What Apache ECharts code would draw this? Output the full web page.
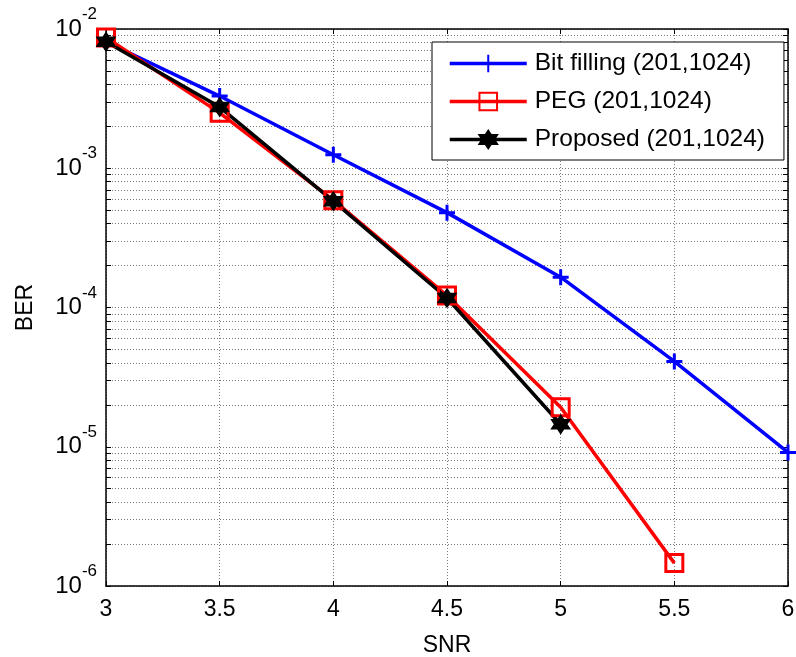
<!DOCTYPE html>
<html>
<head>
<meta charset="utf-8">
<script src="https://cdn.jsdelivr.net/npm/echarts@6/dist/echarts.min.js"></script>
<style>
  html, body { margin: 0; padding: 0; background: #fff; }
  #chart { width: 796px; height: 657px; }
</style>
</head>
<body>
<div id="chart"></div>
<script>
// SNR sample points (dB)
const snr = [3, 3.5, 4, 4.5, 5, 5.5, 6];
const xTicks = [3, 3.5, 4, 4.5, 5, 5.5, 6];

// Bit error rate per code construction
const bitFilling = [8.1e-3, 3.3e-3, 1.25e-3, 4.8e-4, 1.65e-4, 4.1e-5, 9.1e-6];
const peg = [8.7e-3, 2.5e-3, 5.9e-4, 1.22e-4, 1.92e-5, 1.46e-6];
const proposed = [8.1e-3, 2.75e-3, 5.8e-4, 1.17e-4, 1.45e-5];

const seriesNames = ['Bit filling (201,1024)', 'PEG (201,1024)', 'Proposed (201,1024)'];

// Decade ticks and the 2..9 sub-ticks between them
const yDecades = [1e-6, 1e-5, 1e-4, 1e-3, 1e-2];
const yMinorTicks = [];
for (let k = -6; k < -2; k++) {
  for (let m = 1; m <= 9; m++) yMinorTicks.push(Number((m * Math.pow(10, k)).toPrecision(3)));
}
yMinorTicks.push(1e-2);

const FONT = '"Liberation Sans", Arial, sans-serif';

const pair = (xs, ys) => ys.map((v, i) => [xs[i], v]);

const plusSymbol = 'path://M0,-1 L0,1 M-1,0 L1,0';
const hexagram = 'path://M0,-1 L0.866,0.5 L-0.866,0.5 Z M0,1 L-0.866,-0.5 L0.866,-0.5 Z';

const gridLine = { show: true, lineStyle: { color: '#7a7a7a', width: 1, type: [1, 2] } };
const axisLineStyle = { show: true, onZero: false, lineStyle: { color: '#000', width: 1.5 } };

const LINE_W = 3.5;

const chart = echarts.init(document.getElementById('chart'), null, { renderer: 'canvas' });

chart.setOption({
  backgroundColor: '#fff',
  animation: false,
  grid: { left: 106, right: 8, top: 29, bottom: 71, containLabel: false, outerBoundsMode: 'none' },
  legend: {
    orient: 'vertical',
    left: 432,
    top: 42,
    backgroundColor: '#fff',
    borderColor: '#000',
    borderWidth: 1,
    borderRadius: 0,
    padding: [9, 19, 8, 16],
    itemWidth: 77,
    itemHeight: 22,
    itemGap: 13,
    textStyle: { fontFamily: FONT, fontSize: 24.5, color: '#000', padding: [0, 0, 0, 3] },
    data: seriesNames.map(n => ({ name: n, lineStyle: { width: LINE_W } }))
  },
  xAxis: [
    {
      type: 'value', min: 3, max: 6, interval: 0.5,
      position: 'bottom',
      axisLine: axisLineStyle,
      axisTick: { show: true, inside: true, length: 5, lineStyle: { color: '#000', width: 1 } },
      axisLabel: {
        show: true, margin: 12, fontFamily: FONT, fontSize: 23, color: '#000',
        customValues: xTicks,
        formatter: v => String(v)
      },
      splitLine: gridLine,
      name: 'SNR', nameLocation: 'middle', nameGap: 48,
      nameTextStyle: { fontFamily: FONT, fontSize: 23, color: '#000' }
    },
    {
      type: 'value', min: 3, max: 6, interval: 0.5,
      position: 'top',
      axisLine: axisLineStyle,
      axisTick: { show: true, inside: true, length: 5, lineStyle: { color: '#000', width: 1 } },
      axisLabel: { show: false },
      splitLine: { show: false }
    }
  ],
  yAxis: [
    {
      type: 'log', logBase: 10, min: 1e-6, max: 1e-2,
      position: 'left',
      axisLine: axisLineStyle,
      axisTick: { show: true, inside: true, length: 5, customValues: yMinorTicks, lineStyle: { color: '#000', width: 1 } },
      axisLabel: {
        show: true, margin: 9, customValues: yDecades,
        formatter: v => '{b|10}{s|' + Math.round(Math.log10(v)) + '}',
        rich: {
          b: { fontFamily: FONT, fontSize: 24, color: '#000', lineHeight: 46 },
          s: { fontFamily: FONT, fontSize: 17, color: '#000', verticalAlign: 'top', lineHeight: 17 }
        }
      },
      splitLine: gridLine,
      name: 'BER', nameLocation: 'middle', nameGap: 69, nameRotate: 90,
      nameTextStyle: { fontFamily: FONT, fontSize: 23, color: '#000' }
    },
    {
      type: 'log', logBase: 10, min: 1e-6, max: 1e-2,
      position: 'right',
      axisLine: axisLineStyle,
      axisTick: { show: true, inside: true, length: 5, customValues: yMinorTicks, lineStyle: { color: '#000', width: 1 } },
      axisLabel: { show: false },
      splitLine: { show: false }
    }
  ],
  series: [
    {
      name: seriesNames[0], type: 'line',
      data: pair(snr, bitFilling),
      symbol: plusSymbol, symbolSize: 16,
      lineStyle: { color: '#0000ff', width: LINE_W },
      itemStyle: { color: '#0000ff', borderColor: '#0000ff', borderWidth: 3 }
    },
    {
      name: seriesNames[1], type: 'line',
      data: pair(snr, peg),
      symbol: 'rect', symbolSize: 17,
      lineStyle: { color: '#ff0000', width: LINE_W },
      itemStyle: { color: 'rgba(255,255,255,0)', borderColor: '#ff0000', borderWidth: 3 }
    },
    {
      name: seriesNames[2], type: 'line',
      data: pair(snr, proposed),
      symbol: hexagram, symbolSize: 18,
      lineStyle: { color: '#000', width: LINE_W },
      itemStyle: { color: '#000', borderColor: '#000', borderWidth: 1.5 }
    }
  ]
});
</script>
</body>
</html>
